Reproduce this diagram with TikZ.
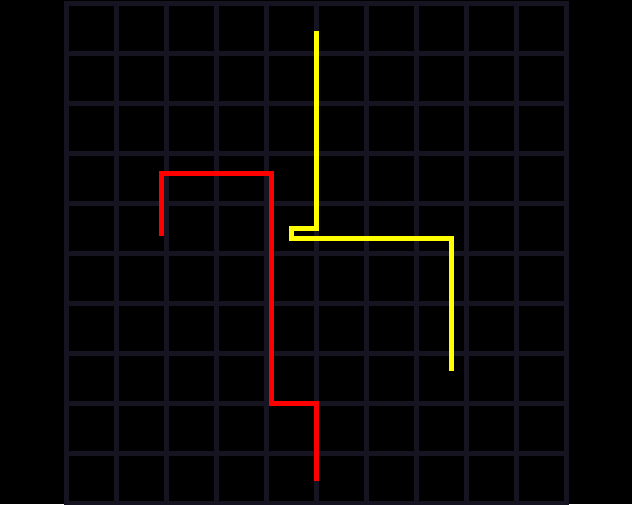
\documentclass[tikz,border=0pt]{standalone}
\usepackage{tikz}
\usetikzlibrary{calc}
\usepackage{xcolor}
\definecolor{gridline}{RGB}{23, 20, 33}
\definecolor{pathA}{RGB}{255, 0, 0}
\definecolor{pathB}{RGB}{255, 255, 0}

\begin{document}
\begin{tikzpicture}[x=0.02cm, y=-0.02cm,
    gridstroke/.style={gridline, line width=0.1cm},
    trail/.style={line width=0.1cm, line join=miter}]
  % background, fixes the size
  \fill[black] (0, 0) rectangle (632, 504);
  \useasboundingbox (0, 0) rectangle (632, 504);

  % grid
  \foreach \i in {0,...,10} {
    \draw[gridstroke] ({66.5 + 50*\i}, 3.5) -- ({66.5 + 50*\i}, 506);
    \draw[gridstroke] (64, {3.5 + 50*\i}) -- (569, {3.5 + 50*\i});
  }

  % red path
  \draw[trail, pathA] (161.5, 236) -- (161.5, 173.5) -- (271.5, 173.5)
    -- (271.5, 403.5) -- (316.5, 403.5) -- (316.5, 481);

  % yellow path
  \draw[trail, pathB] (316.5, 31) -- (316.5, 228.5) -- (291.5, 228.5)
    -- (291.5, 238.5) -- (451.5, 238.5) -- (451.5, 371);
\end{tikzpicture}
\end{document}
